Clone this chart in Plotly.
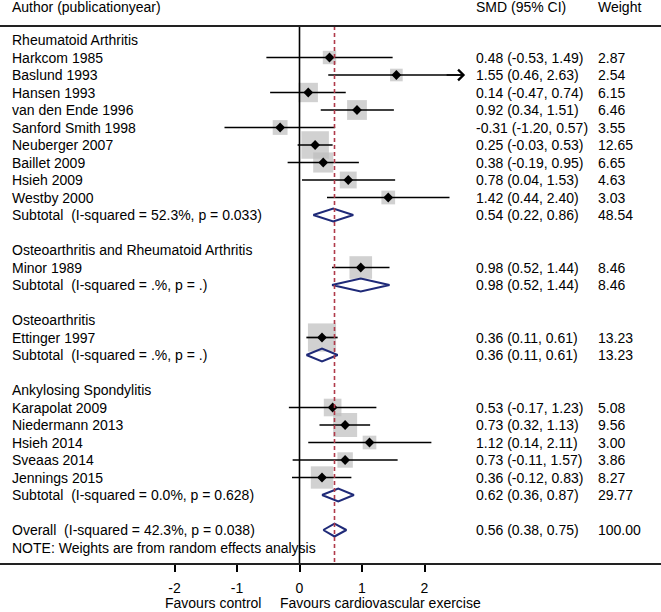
import plotly.graph_objects as go

# ---------------- data ----------------
group_names = ["Rheumatoid Arthritis",
               "Osteoarthritis and Rheumatoid Arthritis",
               "Osteoarthritis",
               "Ankylosing Spondylitis"]

study_names = ["Harkcom 1985", "Baslund 1993", "Hansen 1993", "van den Ende 1996",
               "Sanford Smith 1998", "Neuberger 2007", "Baillet 2009", "Hsieh 2009",
               "Westby 2000",
               "Minor 1989",
               "Ettinger 1997",
               "Karapolat 2009", "Niedermann 2013", "Hsieh 2014", "Sveaas 2014",
               "Jennings 2015"]
study_group = [0, 0, 0, 0, 0, 0, 0, 0, 0, 1, 2, 3, 3, 3, 3, 3]
study_smd = [0.48, 1.55, 0.14, 0.92, -0.31, 0.25, 0.38, 0.78, 1.42,
             0.98, 0.36, 0.53, 0.73, 1.12, 0.73, 0.36]
study_lo = [-0.53, 0.46, -0.47, 0.34, -1.20, -0.03, -0.19, 0.04, 0.44,
            0.52, 0.11, -0.17, 0.32, 0.14, -0.11, -0.12]
study_hi = [1.49, 2.63, 0.74, 1.51, 0.57, 0.53, 0.95, 1.53, 2.40,
            1.44, 0.61, 1.23, 1.13, 2.11, 1.57, 0.83]
study_weight = [2.87, 2.54, 6.15, 6.46, 3.55, 12.65, 6.65, 4.63, 3.03,
                8.46, 13.23, 5.08, 9.56, 3.00, 3.86, 8.27]

subtotal_labels = ["Subtotal  (I-squared = 52.3%, p = 0.033)",
                   "Subtotal  (I-squared = .%, p = .)",
                   "Subtotal  (I-squared = .%, p = .)",
                   "Subtotal  (I-squared = 0.0%, p = 0.628)"]
subtotal_smd = [0.54, 0.98, 0.36, 0.62]
subtotal_lo = [0.22, 0.52, 0.11, 0.36]
subtotal_hi = [0.86, 1.44, 0.61, 0.87]
subtotal_weight = [48.54, 8.46, 13.23, 29.77]

overall_label = "Overall  (I-squared = 42.3%, p = 0.038)"
overall_smd = 0.56
overall_lo = 0.38
overall_hi = 0.75
overall_weight = 100.00

note_text = "NOTE: Weights are from random effects analysis"
header_left = "Author (publicationyear)"
header_mid = "SMD (95% CI)"
header_right = "Weight"
x_ticks = [-2, -1, 0, 1, 2]
favours_left = "Favours control"
favours_right = "Favours cardiovascular exercise"

# ---------------- layout constants ----------------
W, H = 661, 612
ROW0, ROWH = 40.0, 17.5
AXIS_PX = 563.0
X0_PX, X_SCALE = 299.5, 62.5
FONT = "Liberation Sans, Arial, sans-serif"
COL_LABEL, COL_CI, COL_W = 10 / W, 474 / W, 596 / W


def row_of(px):
    return (px - ROW0) / ROWH


# ---------------- build rows ----------------
rows = []
r = 0
study_rows = []
sub_rows = []
for g, gname in enumerate(group_names):
    rows.append((r, "group", gname))
    r += 1
    for k in range(len(study_names)):
        if study_group[k] == g:
            study_rows.append((r, k))
            r += 1
    sub_rows.append((r, g))
    r += 1
    r += 1  # blank
overall_row = r
note_row = r + 1

fig = go.Figure()

# boxes
fig.add_trace(go.Scatter(
    x=[study_smd[k] for _, k in study_rows],
    y=[i for i, _ in study_rows],
    mode="markers",
    marker=dict(symbol="square", color="#bdbdbd",
                size=[7.6 * study_weight[k] ** 0.5 + 0.5 for _, k in study_rows],
                line=dict(width=0)),
    hoverinfo="skip", showlegend=False))

# CI lines
cx, cy = [], []
for i, k in study_rows:
    cx += [study_lo[k], study_hi[k], None]
    cy += [i, i, None]
fig.add_trace(go.Scatter(x=cx, y=cy, mode="lines",
                         line=dict(color="black", width=1.7),
                         hoverinfo="skip", showlegend=False))

# point estimates
fig.add_trace(go.Scatter(
    x=[study_smd[k] for _, k in study_rows],
    y=[i for i, _ in study_rows],
    mode="markers",
    marker=dict(symbol="diamond", color="black", size=7.5),
    hoverinfo="skip", showlegend=False))

# diamonds (subtotals + overall)
dx, dy = [], []
hh = 0.37
diamonds = [(i, subtotal_smd[g], subtotal_lo[g], subtotal_hi[g]) for i, g in sub_rows]
diamonds.append((overall_row, overall_smd, overall_lo, overall_hi))
for i, e, lo, hi in diamonds:
    dx += [lo, e, hi, e, lo, None]
    dy += [i, i - hh, i, i + hh, i, None]
fig.add_trace(go.Scatter(x=dx, y=dy, mode="lines", fill="toself",
                         fillcolor="rgba(255,255,255,0)",
                         line=dict(color="#1f2a78", width=2),
                         hoverinfo="skip", showlegend=False))

# arrow for Baslund (CI beyond)
for i, k in study_rows:
    if study_names[k] == "Baslund 1993":
        fig.add_annotation(x=study_hi[k] + 0.02, y=i, ax=study_hi[k] - 0.3, ay=i,
                           xref="x", yref="y", axref="x", ayref="y",
                           text="", showarrow=True, arrowhead=4,
                           arrowsize=1.3, arrowwidth=1.6, arrowcolor="black")

ytop = row_of(26)
ybot = row_of(AXIS_PX)
# reference lines
fig.add_shape(type="line", x0=0, x1=0, y0=ytop, y1=ybot, xref="x", yref="y",
              line=dict(color="black", width=1.6))
fig.add_shape(type="line", x0=overall_smd, x1=overall_smd, y0=ytop, y1=ybot,
              xref="x", yref="y",
              line=dict(color="#b03a4a", width=1.6, dash="4px,3px"))
# header line
fig.add_shape(type="line", x0=0, x1=1, y0=ytop, y1=ytop, xref="paper", yref="y",
              line=dict(color="#222222", width=2))

font = dict(family=FONT, size=14, color="black")


def txt(x, y, s):
    fig.add_annotation(x=x, y=y, xref="paper", yref="y", text=s, showarrow=False,
                       xanchor="left", yanchor="middle", font=font)


def ci_text(e, lo, hi):
    return f"{e:.2f} ({lo:.2f}, {hi:.2f})"


yh = row_of(7)
txt(COL_LABEL, yh, header_left)
txt(COL_CI, yh, header_mid)
txt(COL_W, yh, header_right)

for i, kind, name in rows:
    txt(COL_LABEL, i, name)
for i, k in study_rows:
    txt(COL_LABEL, i, study_names[k])
    txt(COL_CI, i, ci_text(study_smd[k], study_lo[k], study_hi[k]))
    txt(COL_W, i, f"{study_weight[k]:.2f}")
for i, g in sub_rows:
    txt(COL_LABEL, i, subtotal_labels[g])
    txt(COL_CI, i, ci_text(subtotal_smd[g], subtotal_lo[g], subtotal_hi[g]))
    txt(COL_W, i, f"{subtotal_weight[g]:.2f}")
txt(COL_LABEL, overall_row, overall_label)
txt(COL_CI, overall_row, ci_text(overall_smd, overall_lo, overall_hi))
txt(COL_W, overall_row, f"{overall_weight:.2f}")
txt(COL_LABEL, note_row, note_text)

# favours labels
fy = (AXIS_PX - 603) / AXIS_PX
fig.add_annotation(x=(263 - X0_PX) / X_SCALE, y=fy, xref="x", yref="paper",
                   text=favours_left, showarrow=False, xanchor="right",
                   yanchor="middle", font=font)
fig.add_annotation(x=(278 - X0_PX) / X_SCALE, y=fy, xref="x", yref="paper",
                   text=favours_right, showarrow=False, xanchor="left",
                   yanchor="middle", font=font)

fig.update_layout(
    width=W, height=H,
    margin=dict(l=0, r=0, t=0, b=H - AXIS_PX, pad=0),
    plot_bgcolor="white", paper_bgcolor="white",
    font=font, showlegend=False,
    xaxis=dict(range=[-X0_PX / X_SCALE, (W - X0_PX) / X_SCALE],
               tickvals=x_ticks, ticktext=[str(t) for t in x_ticks],
               ticks="outside", ticklen=7, tickwidth=1.6, tickcolor="black",
               showline=True, linecolor="#222222", linewidth=2,
               showgrid=False, zeroline=False, fixedrange=True,
               ticklabelstandoff=4, tickfont=font),
    yaxis=dict(range=[row_of(AXIS_PX), row_of(0)], visible=False,
               showgrid=False, zeroline=False, fixedrange=True),
)

fig.write_html(
    "out.html",
    config={"displayModeBar": False},
    post_script="document.body.style.margin='0px';document.body.style.padding='0px';"
                "document.documentElement.style.overflow='hidden';",
)
